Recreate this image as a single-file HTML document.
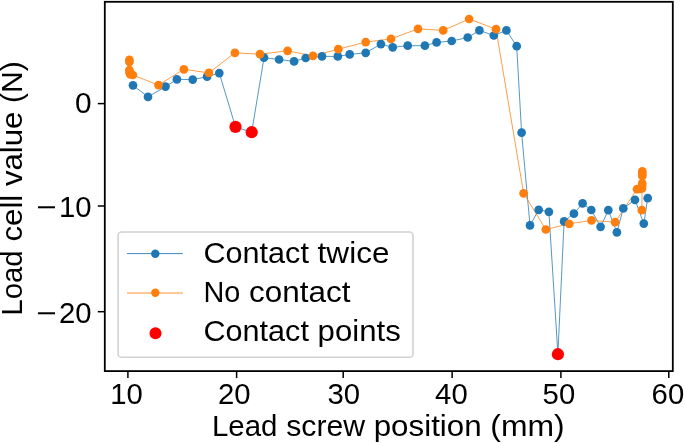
<!DOCTYPE html>
<html><head><meta charset="utf-8"><title>Load cell value vs lead screw position</title>
<style>
html,body{margin:0;padding:0;background:#fff;}
svg{display:block;will-change:transform;}
text{font-family:"Liberation Sans",sans-serif;fill:#000;}
</style></head><body>
<svg width="685" height="443" viewBox="0 0 685 443">
<rect x="0" y="0" width="685" height="443" fill="#fff"/>
<g transform="translate(0.1,0.4)">
<polyline points="132.9,84.9 147.9,96.5 165.4,86.2 176.8,79.0 192.6,79.2 207.0,76.3 219.2,72.7 235.4,126.5 251.6,131.8 263.9,57.3 279.0,59.1 294.0,61.0 305.6,57.6 321.9,56.0 337.7,56.0 349.6,54.0 365.6,52.4 380.8,43.7 392.6,46.9 407.6,45.3 424.8,45.3 436.5,42.0 451.6,40.6 467.6,37.1 479.3,30.0 493.7,35.1 506.3,30.0 516.6,45.8 521.5,132.2 529.9,225.0 538.6,209.4 548.8,211.4 557.8,353.8 564.0,221.0 573.8,213.3 582.5,203.0 591.2,209.6 600.5,226.4 608.2,209.8 616.8,231.9 623.2,208.0 634.9,199.4 643.7,223.2 647.6,197.8" fill="none" stroke="#1f77b4" stroke-width="0.9" stroke-linejoin="round" opacity="0.85"/>
<polyline points="129.3,59.4 129.3,61.5 129.3,69.8 129.4,72.0 130.2,74.0 132.8,74.6 158.4,84.7 183.8,68.9 208.8,72.5 234.8,52.4 259.9,53.8 287.5,50.4 312.9,55.5 338.2,48.8 365.6,41.7 390.9,38.5 417.9,28.4 443.1,30.0 469.0,18.6 495.9,28.8 523.5,192.9 545.7,229.1 569.1,223.4 591.4,220.0 615.0,221.8 636.9,188.8 639.5,188.6 641.9,188.0 642.0,185.5 642.1,183.0 642.2,175.5 642.2,173.5 642.2,171.0 641.7,209.8" fill="none" stroke="#ff7f0e" stroke-width="0.9" stroke-linejoin="round" opacity="0.85"/>
<circle cx="132.9" cy="84.9" r="4.35" fill="#1f77b4"/>
<circle cx="147.9" cy="96.5" r="4.35" fill="#1f77b4"/>
<circle cx="165.4" cy="86.2" r="4.35" fill="#1f77b4"/>
<circle cx="176.8" cy="79.0" r="4.35" fill="#1f77b4"/>
<circle cx="192.6" cy="79.2" r="4.35" fill="#1f77b4"/>
<circle cx="207.0" cy="76.3" r="4.35" fill="#1f77b4"/>
<circle cx="219.2" cy="72.7" r="4.35" fill="#1f77b4"/>
<circle cx="263.9" cy="57.3" r="4.35" fill="#1f77b4"/>
<circle cx="279.0" cy="59.1" r="4.35" fill="#1f77b4"/>
<circle cx="294.0" cy="61.0" r="4.35" fill="#1f77b4"/>
<circle cx="305.6" cy="57.6" r="4.35" fill="#1f77b4"/>
<circle cx="321.9" cy="56.0" r="4.35" fill="#1f77b4"/>
<circle cx="337.7" cy="56.0" r="4.35" fill="#1f77b4"/>
<circle cx="349.6" cy="54.0" r="4.35" fill="#1f77b4"/>
<circle cx="365.6" cy="52.4" r="4.35" fill="#1f77b4"/>
<circle cx="380.8" cy="43.7" r="4.35" fill="#1f77b4"/>
<circle cx="392.6" cy="46.9" r="4.35" fill="#1f77b4"/>
<circle cx="407.6" cy="45.3" r="4.35" fill="#1f77b4"/>
<circle cx="424.8" cy="45.3" r="4.35" fill="#1f77b4"/>
<circle cx="436.5" cy="42.0" r="4.35" fill="#1f77b4"/>
<circle cx="451.6" cy="40.6" r="4.35" fill="#1f77b4"/>
<circle cx="467.6" cy="37.1" r="4.35" fill="#1f77b4"/>
<circle cx="479.3" cy="30.0" r="4.35" fill="#1f77b4"/>
<circle cx="493.7" cy="35.1" r="4.35" fill="#1f77b4"/>
<circle cx="506.3" cy="30.0" r="4.35" fill="#1f77b4"/>
<circle cx="516.6" cy="45.8" r="4.35" fill="#1f77b4"/>
<circle cx="521.5" cy="132.2" r="4.35" fill="#1f77b4"/>
<circle cx="529.9" cy="225.0" r="4.35" fill="#1f77b4"/>
<circle cx="538.6" cy="209.4" r="4.35" fill="#1f77b4"/>
<circle cx="548.8" cy="211.4" r="4.35" fill="#1f77b4"/>
<circle cx="564.0" cy="221.0" r="4.35" fill="#1f77b4"/>
<circle cx="573.8" cy="213.3" r="4.35" fill="#1f77b4"/>
<circle cx="582.5" cy="203.0" r="4.35" fill="#1f77b4"/>
<circle cx="591.2" cy="209.6" r="4.35" fill="#1f77b4"/>
<circle cx="600.5" cy="226.4" r="4.35" fill="#1f77b4"/>
<circle cx="608.2" cy="209.8" r="4.35" fill="#1f77b4"/>
<circle cx="616.8" cy="231.9" r="4.35" fill="#1f77b4"/>
<circle cx="623.2" cy="208.0" r="4.35" fill="#1f77b4"/>
<circle cx="634.9" cy="199.4" r="4.35" fill="#1f77b4"/>
<circle cx="643.7" cy="223.2" r="4.35" fill="#1f77b4"/>
<circle cx="647.6" cy="197.8" r="4.35" fill="#1f77b4"/>
<circle cx="129.3" cy="59.4" r="4.35" fill="#ff7f0e"/>
<circle cx="129.3" cy="61.5" r="4.35" fill="#ff7f0e"/>
<circle cx="129.3" cy="69.8" r="4.35" fill="#ff7f0e"/>
<circle cx="129.4" cy="72.0" r="4.35" fill="#ff7f0e"/>
<circle cx="130.2" cy="74.0" r="4.35" fill="#ff7f0e"/>
<circle cx="132.8" cy="74.6" r="4.35" fill="#ff7f0e"/>
<circle cx="158.4" cy="84.7" r="4.35" fill="#ff7f0e"/>
<circle cx="183.8" cy="68.9" r="4.35" fill="#ff7f0e"/>
<circle cx="208.8" cy="72.5" r="4.35" fill="#ff7f0e"/>
<circle cx="234.8" cy="52.4" r="4.35" fill="#ff7f0e"/>
<circle cx="259.9" cy="53.8" r="4.35" fill="#ff7f0e"/>
<circle cx="287.5" cy="50.4" r="4.35" fill="#ff7f0e"/>
<circle cx="312.9" cy="55.5" r="4.35" fill="#ff7f0e"/>
<circle cx="338.2" cy="48.8" r="4.35" fill="#ff7f0e"/>
<circle cx="365.6" cy="41.7" r="4.35" fill="#ff7f0e"/>
<circle cx="390.9" cy="38.5" r="4.35" fill="#ff7f0e"/>
<circle cx="417.9" cy="28.4" r="4.35" fill="#ff7f0e"/>
<circle cx="443.1" cy="30.0" r="4.35" fill="#ff7f0e"/>
<circle cx="469.0" cy="18.6" r="4.35" fill="#ff7f0e"/>
<circle cx="495.9" cy="28.8" r="4.35" fill="#ff7f0e"/>
<circle cx="523.5" cy="192.9" r="4.35" fill="#ff7f0e"/>
<circle cx="545.7" cy="229.1" r="4.35" fill="#ff7f0e"/>
<circle cx="569.1" cy="223.4" r="4.35" fill="#ff7f0e"/>
<circle cx="591.4" cy="220.0" r="4.35" fill="#ff7f0e"/>
<circle cx="615.0" cy="221.8" r="4.35" fill="#ff7f0e"/>
<circle cx="636.9" cy="188.8" r="4.35" fill="#ff7f0e"/>
<circle cx="639.5" cy="188.6" r="4.35" fill="#ff7f0e"/>
<circle cx="641.9" cy="188.0" r="4.35" fill="#ff7f0e"/>
<circle cx="642.0" cy="185.5" r="4.35" fill="#ff7f0e"/>
<circle cx="642.1" cy="183.0" r="4.35" fill="#ff7f0e"/>
<circle cx="642.2" cy="175.5" r="4.35" fill="#ff7f0e"/>
<circle cx="642.2" cy="173.5" r="4.35" fill="#ff7f0e"/>
<circle cx="642.2" cy="171.0" r="4.35" fill="#ff7f0e"/>
<circle cx="641.7" cy="209.8" r="4.35" fill="#ff7f0e"/>
<circle cx="235.4" cy="126.5" r="6.1" fill="#ff0000"/>
<circle cx="251.6" cy="131.8" r="6.1" fill="#ff0000"/>
<circle cx="557.8" cy="353.8" r="6.1" fill="#ff0000"/>
</g>
<rect x="104.8" y="1.8" width="568.0" height="369.3" fill="none" stroke="#000" stroke-width="1.8"/>
<line x1="127.9" y1="371.1" x2="127.9" y2="378.1" stroke="#000" stroke-width="1.5"/>
<text x="110.2" y="403.7" font-size="28.6" textLength="32.6" lengthAdjust="spacingAndGlyphs">10</text>
<line x1="236.6" y1="371.1" x2="236.6" y2="378.1" stroke="#000" stroke-width="1.5"/>
<text x="217.9" y="403.7" font-size="28.6" textLength="32.6" lengthAdjust="spacingAndGlyphs">20</text>
<line x1="343.2" y1="371.1" x2="343.2" y2="378.1" stroke="#000" stroke-width="1.5"/>
<text x="327.4" y="403.7" font-size="28.6" textLength="32.6" lengthAdjust="spacingAndGlyphs">30</text>
<line x1="452.15" y1="371.1" x2="452.15" y2="378.1" stroke="#000" stroke-width="1.5"/>
<text x="435.1" y="403.7" font-size="28.6" textLength="32.6" lengthAdjust="spacingAndGlyphs">40</text>
<line x1="560.9" y1="371.1" x2="560.9" y2="378.1" stroke="#000" stroke-width="1.5"/>
<text x="542.6" y="403.7" font-size="28.6" textLength="32.6" lengthAdjust="spacingAndGlyphs">50</text>
<line x1="668.8" y1="371.1" x2="668.8" y2="378.1" stroke="#000" stroke-width="1.5"/>
<text x="651.6" y="403.7" font-size="28.6" textLength="32.6" lengthAdjust="spacingAndGlyphs">60</text>
<line x1="97.8" y1="103.6" x2="104.8" y2="103.6" stroke="#000" stroke-width="1.5"/>
<text x="75.0" y="112.9" font-size="28.6" textLength="16.6" lengthAdjust="spacingAndGlyphs">0</text>
<line x1="97.8" y1="206.0" x2="104.8" y2="206.0" stroke="#000" stroke-width="1.5"/>
<text y="216.8" font-size="28.6"><tspan x="36.6" textLength="20.5" lengthAdjust="spacingAndGlyphs">−</tspan><tspan x="59.0" textLength="32.6" lengthAdjust="spacingAndGlyphs">10</tspan></text>
<line x1="97.8" y1="311.7" x2="104.8" y2="311.7" stroke="#000" stroke-width="1.5"/>
<text y="322.8" font-size="28.6"><tspan x="36.6" textLength="20.5" lengthAdjust="spacingAndGlyphs">−</tspan><tspan x="59.0" textLength="32.6" lengthAdjust="spacingAndGlyphs">20</tspan></text>
<text y="436.0" font-size="28.6"><tspan x="212.0" textLength="65.5" lengthAdjust="spacingAndGlyphs">Lead</tspan> <tspan x="286.2" textLength="78.9" lengthAdjust="spacingAndGlyphs">screw</tspan> <tspan x="373.7" textLength="108.0" lengthAdjust="spacingAndGlyphs">position</tspan> <tspan x="490.3" textLength="74.4" lengthAdjust="spacingAndGlyphs">(mm)</tspan></text>
<text transform="translate(22.0,315.7) rotate(-90)" y="0" font-size="28.6"><tspan x="0.0" textLength="65.4" lengthAdjust="spacingAndGlyphs">Load</tspan> <tspan x="74.1" textLength="46.9" lengthAdjust="spacingAndGlyphs">cell</tspan> <tspan x="129.6" textLength="74.5" lengthAdjust="spacingAndGlyphs">value</tspan> <tspan x="212.8" textLength="41.7" lengthAdjust="spacingAndGlyphs">(N)</tspan></text>
<rect x="118.1" y="232.0" width="294.9" height="125.3" rx="3.4" ry="3.4" fill="#fff" fill-opacity="0.8" stroke="#ccc" stroke-opacity="0.9" stroke-width="1.6"/>
<line x1="127" y1="253.6" x2="182.9" y2="253.6" stroke="#1f77b4" stroke-width="1" opacity="0.85"/><circle cx="155.3" cy="253.7" r="4.2" fill="#1f77b4"/>
<line x1="127" y1="293.0" x2="182.9" y2="293.0" stroke="#ff7f0e" stroke-width="1" opacity="0.85"/><circle cx="155.3" cy="292.8" r="4.2" fill="#ff7f0e"/>
<circle cx="155.5" cy="333.3" r="6" fill="#ff0000"/>
<text y="262.6" font-size="28.6"><tspan x="203.5" textLength="105.4" lengthAdjust="spacingAndGlyphs">Contact</tspan> <tspan x="317.6" textLength="71.9" lengthAdjust="spacingAndGlyphs">twice</tspan></text>
<text y="301.7" font-size="28.6"><tspan x="203.5" textLength="36.9" lengthAdjust="spacingAndGlyphs">No</tspan> <tspan x="249.0" textLength="101.4" lengthAdjust="spacingAndGlyphs">contact</tspan></text>
<text y="340.8" font-size="28.6"><tspan x="203.5" textLength="105.4" lengthAdjust="spacingAndGlyphs">Contact</tspan> <tspan x="317.6" textLength="83.2" lengthAdjust="spacingAndGlyphs">points</tspan></text>
</svg>
</body></html>
